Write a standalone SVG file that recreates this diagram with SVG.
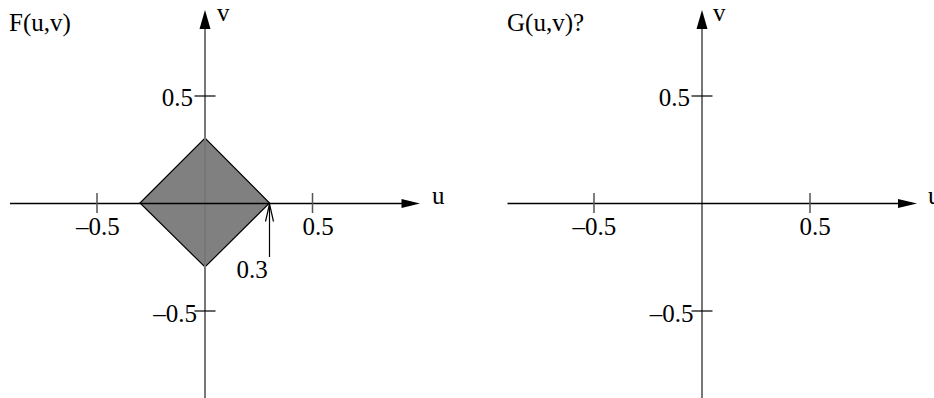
<svg xmlns="http://www.w3.org/2000/svg" width="934" height="398" viewBox="0 0 934 398">
<style>
text{font-family:"Liberation Serif","Times New Roman",serif;font-size:25px;fill:#000}
.vax{stroke:#777;stroke-width:2;fill:none}
.hax{stroke:#000;stroke-width:1.5;fill:none}
.tk{stroke:#000;stroke-width:1.2;fill:none}
.tku{stroke:#555;stroke-width:1.5;fill:none}
.ah{fill:#000;stroke:none}
</style>
<rect width="934" height="398" fill="#fff"/>
<g id="shape-F">
<polygon points="140,203 205,138 269.5,203 205,267" fill="#808080" stroke="#000" stroke-width="1.2"/>
</g>
<g id="axes">
<g id="left-axes">
<line class="vax" x1="205" y1="26" x2="205" y2="398"/>
<polygon class="ah" points="205,10 199.5,29 210.5,29"/>
<line class="hax" x1="10" y1="203.5" x2="404" y2="203.5"/>
<polygon class="ah" points="420,203.5 401.5,199 401.5,208"/>
<line class="tk" x1="194.5" y1="96" x2="215.5" y2="96"/>
<line class="tk" x1="194.5" y1="311" x2="215.5" y2="311"/>
<line class="tku" x1="97" y1="193" x2="97" y2="213"/>
<line class="tku" x1="312.5" y1="193" x2="312.5" y2="213"/>
</g>
<g id="right-axes">
<line class="vax" x1="702" y1="26" x2="702" y2="398"/>
<polygon class="ah" points="702,10 696.5,29 707.5,29"/>
<line class="hax" x1="507.5" y1="203.5" x2="900" y2="203.5"/>
<polygon class="ah" points="917,203.5 898,199 898,208"/>
<line class="tk" x1="691.5" y1="96" x2="712.5" y2="96"/>
<line class="tk" x1="691.5" y1="311" x2="712.5" y2="311"/>
<line class="tku" x1="594" y1="193" x2="594" y2="213"/>
<line class="tku" x1="810" y1="193" x2="810" y2="213"/>
</g>
</g>
<g id="marker-03">
<line x1="269.5" y1="257" x2="269.5" y2="205" stroke="#000" stroke-width="1.2"/>
<polyline points="265.5,221.5 269.5,204 273.5,221.5" fill="none" stroke="#000" stroke-width="1.2"/>
<text x="236.5" y="278">0.3</text>
</g>
<g id="labels-left">
<text x="9" y="31">F(u,v)</text>
<text x="217" y="21">v</text>
<text x="432" y="204">u</text>
<text x="193" y="106" text-anchor="end">0.5</text>
<text x="197" y="322" text-anchor="end">–0.5</text>
<text x="76" y="235">–0.5</text>
<text x="302.5" y="235">0.5</text>
</g>
<g id="labels-right">
<text x="507" y="31">G(u,v)?</text>
<text x="713" y="21">v</text>
<text x="928" y="204">u</text>
<text x="690" y="106" text-anchor="end">0.5</text>
<text x="693.5" y="322" text-anchor="end">–0.5</text>
<text x="572.5" y="235">–0.5</text>
<text x="799.5" y="235">0.5</text>
</g>
</svg>
